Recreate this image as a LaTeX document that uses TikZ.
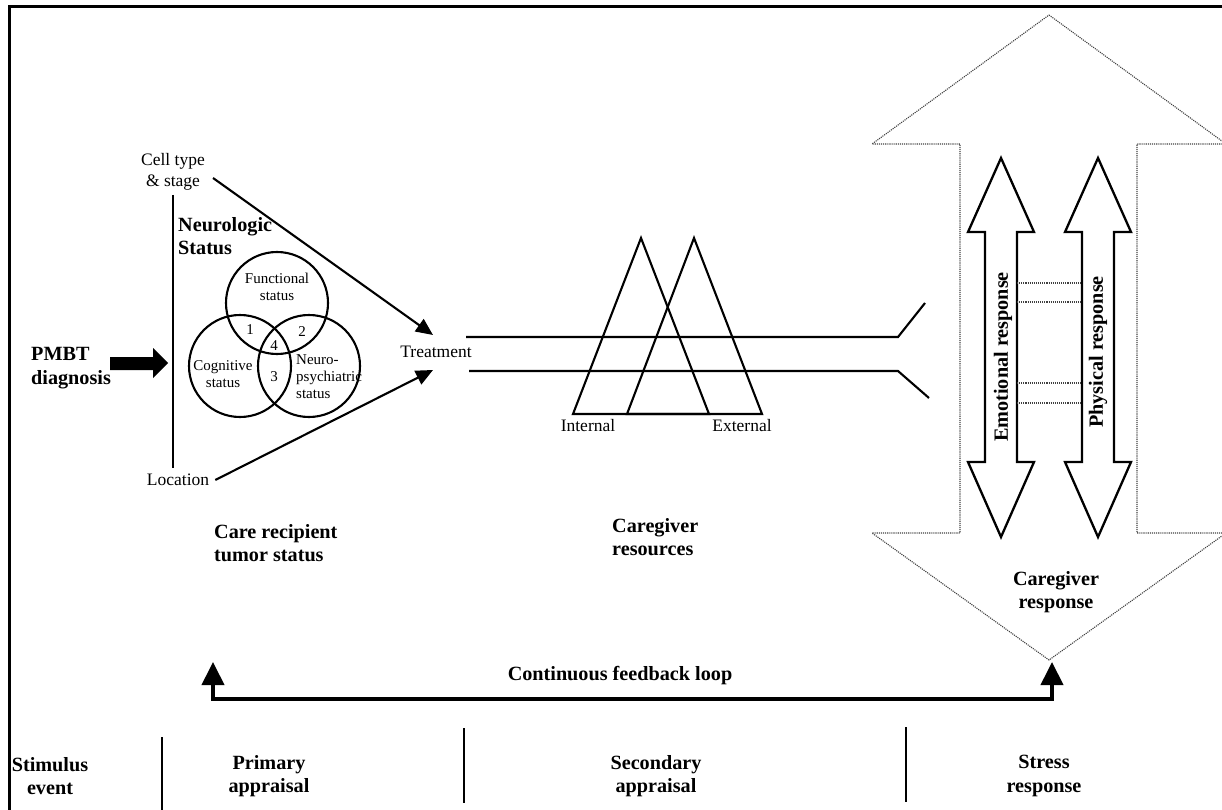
\documentclass[tikz,border=0pt]{standalone}
\usepackage{fontspec}
\setmainfont{Liberation Serif}
\usetikzlibrary{arrows.meta}
\newcommand{\respArrow}[1]{\draw[line width=2.3pt, line join=miter]
	(#1-16,232) -- (#1-33,232) -- (#1,158) -- (#1+33,232) -- (#1+16,232)
	-- (#1+16,462) -- (#1+33,462) -- (#1,537) -- (#1-33,462) -- (#1-16,462) -- cycle}
\newcommand{\linkLine}[1]{\draw[densely dotted, line width=1.1pt, black!75] (1017,#1) -- (1082,#1)}
\tikzset{
	lbl/.style={font=\fontsize{17.5}{21}\selectfont, inner sep=0pt, align=center},
	vlbl/.style={font=\fontsize{15}{17}\selectfont, inner sep=0pt, align=center},
	blbl/.style={font=\fontsize{20.2}{23.5}\selectfont\bfseries, inner sep=0pt, align=center},
	venn/.style={draw, circle, line width=2.1pt, minimum size=102pt, inner sep=0pt},
	pointer/.style={line width=2.1pt, -{Triangle[length=17pt,width=15pt]}},
	fbloop/.style={line width=4pt, {Triangle[length=23pt,width=22pt]}-{Triangle[length=23pt,width=22pt]}},
	bigresp/.style={densely dotted, line width=1.1pt, black!75}
}
\begin{document}
\begin{tikzpicture}[x=1pt,y=-1pt]
\useasboundingbox (0,0) rectangle (1222,810);
\draw[line width=3pt] (9,810) -- (9,7) -- (1222,7);
%
\node[blbl, align=left, anchor=west] (pmbt) at (31,368) {PMBT\\diagnosis};
\fill (110,357) -- (153,357) -- (153,348) -- (168,363) -- (153,378) -- (153,370) -- (110,370) -- cycle;
%
\node[lbl] (cell) at (173,172) {Cell type\\\& stage};
\node[lbl] (loc) at (178,480) {Location};
\draw[line width=2.1pt] (173,195) -- (173,468);
\node[blbl, align=left, anchor=west] (neurostat) at (178,236) {Neurologic\\Status};
	\node[venn] (func) at (277,303) {};
	\node[venn] (cogn) at (240,366) {};
	\node[venn] (psych) at (309,366) {};
	\node[vlbl] at (277,287) {Functional\\status};
	\node[vlbl] at (223,374) {Cognitive\\status};
	\node[vlbl, align=left, anchor=west] at (296,377) {Neuro-\\psychiatric\\status};
	\node[vlbl] at (250,330) {1};
	\node[vlbl] at (302,332) {2};
	\node[vlbl] at (274,377) {3};
	\node[vlbl] at (274,346) {4};
%
\node[lbl] (treat) at (436,352) {Treatment};
\coordinate (treatTop) at (433,335);
\coordinate (treatBot) at (433,370);
\draw[pointer] (cell.east) ++(8,6) -- (treatTop);
\draw[pointer] (loc.east) ++(6,0) -- (treatBot);
\node[blbl, align=left, anchor=west] (recip) at (214,543) {Care recipient\\tumor status};
%
\draw[line width=2.1pt] (466,337) -- (898,337) -- (925,303);
\draw[line width=2.1pt] (469,371) -- (898,371) -- (929,398);
\draw[line width=2.1pt, line join=miter] (573,414) -- (641,238) -- (709,414) -- cycle;
\draw[line width=2.1pt, line join=miter] (627,414) -- (694,238) -- (762,414) -- cycle;
\node[lbl] (intern) at (588,426) {Internal};
\node[lbl] (extern) at (742,426) {External};
\node[blbl, align=left, anchor=west] (resour) at (612,537) {Caregiver\\resources};
%
\draw[bigresp] (1049,15) -- (1226,144) -- (1137,144) -- (1137,533) -- (1226,533)
	-- (1049,660) -- (872,533) -- (960,533) -- (960,144) -- (872,144) -- cycle;
\respArrow{1001};
\respArrow{1098};
	\linkLine{283};
	\linkLine{302};
	\linkLine{383};
	\linkLine{403};
\node[blbl, rotate=90] (emo) at (1003,357) {Emotional response};
\node[blbl, rotate=90] (phys) at (1098,352) {Physical response};
\node[blbl] (cgresp) at (1056,592) {Caregiver\\response};
%
\coordinate (fbL) at (213,662);
\coordinate (fbM) at (632,699);
\coordinate (fbR) at (1052,662);
\draw[fbloop] (fbL) |- (fbM) -| (fbR);
\node[blbl] (fbtext) at (620,676) {Continuous feedback loop};
%
\draw[line width=1.5pt] (162,737) -- (162,810);
\draw[line width=1.5pt] (464,728) -- (464,803);
\draw[line width=1.5pt] (906,727) -- (906,802);
\node[blbl] (stim) at (50,776) {Stimulus\\event};
\node[blbl] (prim) at (269,776) {Primary\\appraisal};
\node[blbl] (secd) at (656,776) {Secondary\\appraisal};
\node[blbl] (stress) at (1044,776) {Stress\\response};
\end{tikzpicture}
\end{document}
